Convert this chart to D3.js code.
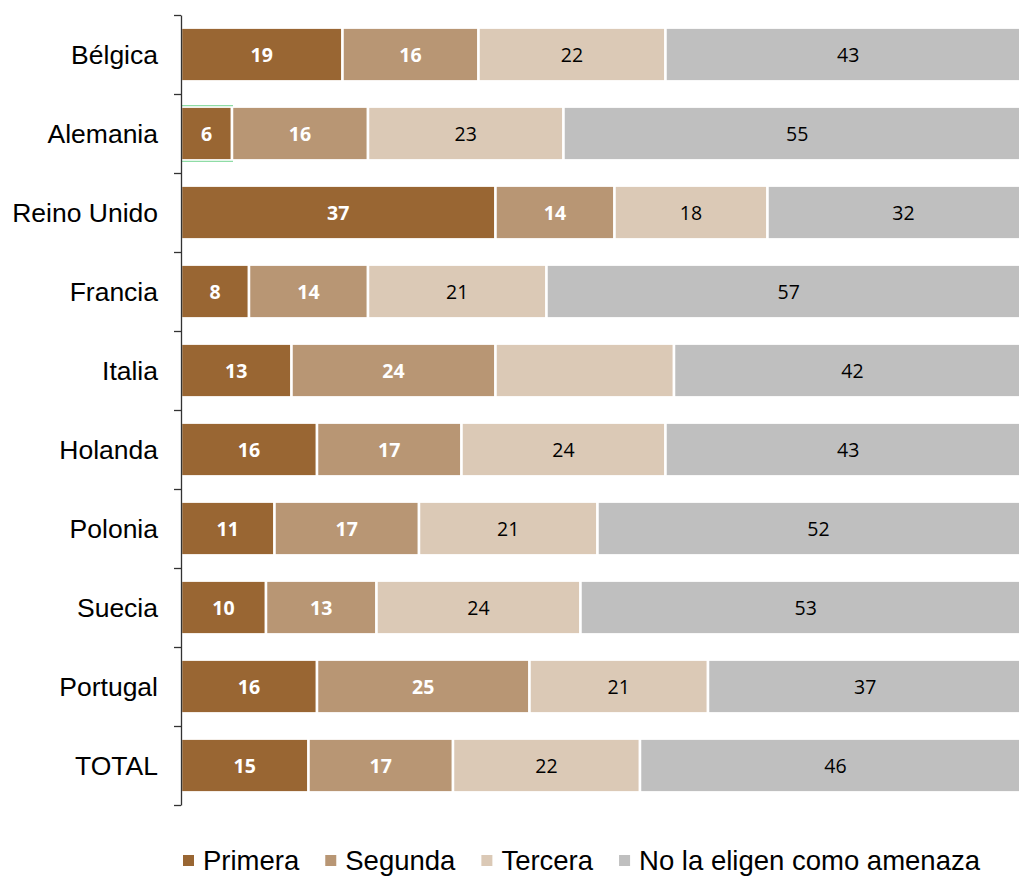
<!DOCTYPE html>
<html><head><meta charset="utf-8">
<script src="https://cdn.jsdelivr.net/npm/d3@7"></script>
<style>body{margin:0;background:#fff}svg{display:block}</style>
</head><body>
<svg id="c" width="1019" height="877"></svg>
<script>
const categories = ["Bélgica","Alemania","Reino Unido","Francia","Italia","Holanda","Polonia","Suecia","Portugal","TOTAL"];
const seriesNames = ["Primera","Segunda","Tercera","No la eligen como amenaza"];
const primera = [19,6,37,8,13,16,11,10,16,15];
const segunda = [16,16,14,14,24,17,17,13,25,17];
const tercera = [22,23,18,21,21,24,21,24,21,22];
const noElige = [43,55,32,57,42,43,52,53,37,46];
const hiddenLabels = [["Italia","Tercera"]];
const colors = ["#996633","#B89674","#DBC9B6","#BFBFBF"];
const labelColors = ["#ffffff","#ffffff","#000000","#000000"];

const series = [primera, segunda, tercera, noElige];
const svg = d3.select("#c");

const x = d3.scaleLinear().domain([0,100]).range([181,1031]);
const y = d3.scaleBand().domain(categories).range([15,805]).paddingInner(0.32).paddingOuter(0.16);
const yb = d3.scaleLinear().domain([0,categories.length]).range([15,805]);

const rows = categories.map((c,i)=>{
  let acc = 0;
  return series.map((s,k)=>{ const v = s[i]; const d = {cat:c, k, v, x0:acc, x1:acc+v}; acc += v; return d; });
});

const g = svg.append("g");
rows.forEach(r=>{
  g.selectAll(null).data(r).enter().append("rect")
    .attr("x", d=>x(d.x0)).attr("y", d=>y(d.cat))
    .attr("width", d=>x(d.x1)-x(d.x0)).attr("height", y.bandwidth())
    .attr("fill", d=>colors[d.k]).attr("stroke","#fff").attr("stroke-width",2.5);
  g.selectAll(null).data(r.filter(d=>!hiddenLabels.some(h=>h[0]===d.cat && h[1]===seriesNames[d.k]))).enter().append("text")
    .attr("x", d=>(x(d.x0)+x(d.x1))/2)
    .attr("y", d=>y(d.cat)+y.bandwidth()/2)
    .attr("dy","0.36em").attr("text-anchor","middle")
    .attr("font-family","'Open Sans', sans-serif").attr("font-size","19.5px")
    .attr("font-weight", d=>d.k<2?"bold":"normal")
    .attr("fill", d=>labelColors[d.k]).text(d=>d.v);
});

// green selection outline on Alemania / Primera
const ai = categories.indexOf("Alemania");
[y("Alemania")-1, y("Alemania")+y.bandwidth()+1].forEach(yy=>{
  svg.append("line").attr("x1",x(0)).attr("x2",x(primera[ai])+1).attr("y1",yy).attr("y2",yy)
    .attr("stroke","#8fdca6").attr("stroke-width",1.2);
});

// axis
const ax = svg.append("g").attr("transform","translate(181,0)")
  .call(d3.axisLeft(yb).tickValues(d3.range(categories.length+1)).tickSize(7).tickSizeOuter(0).tickFormat(""));
ax.selectAll("path,line").attr("stroke","#333").attr("stroke-width",1.3);

svg.append("g").selectAll("text").data(categories).enter().append("text")
  .attr("x",158).attr("y",d=>y(d)+y.bandwidth()/2).attr("dy","0.35em")
  .attr("text-anchor","end").attr("font-family","'Liberation Sans', Arial, sans-serif")
  .attr("font-size","26.5px").attr("fill","#000").text(d=>d);

// legend
const lg = svg.append("g");
let lx = 183;
seriesNames.forEach((n,k)=>{
  lg.append("rect").attr("x",lx).attr("y",855).attr("width",11).attr("height",11).attr("fill",colors[k]);
  const t = lg.append("text").attr("x",lx+20).attr("y",870)
    .attr("font-family","'Liberation Sans', Arial, sans-serif").attr("font-size","27.5px").attr("fill","#000").text(n);
  lx += 20 + t.node().getComputedTextLength() + 26;
});
</script>
</body></html>
